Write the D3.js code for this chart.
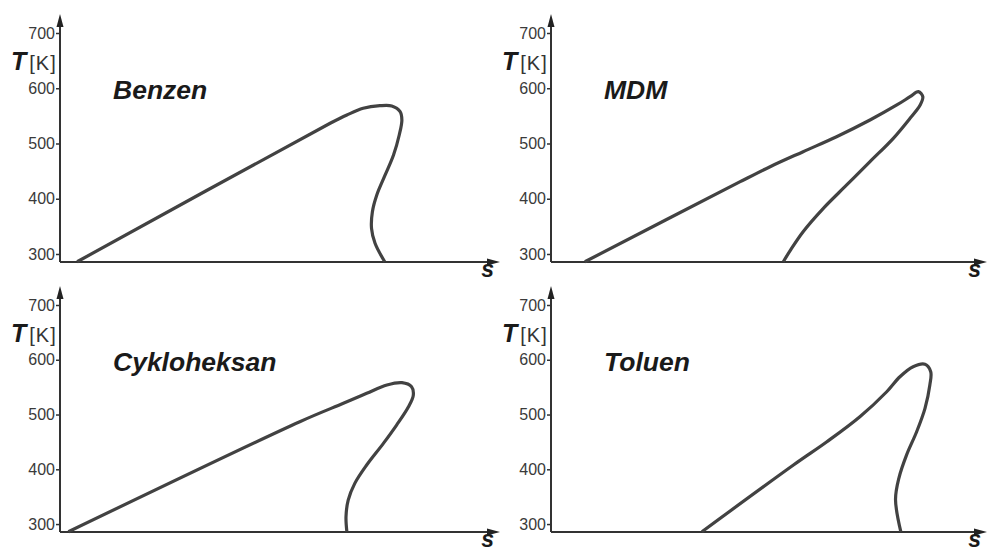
<!DOCTYPE html>
<html>
<head>
    <meta charset="UTF-8">
    <style>
        body { margin: 0; background: #fff; }
        .axis text {
            font-family: "Liberation Sans", Arial, sans-serif;
            font-size: 16px;
            fill: #3a3a3a;
        }
        .axis line { stroke: #333; stroke-width: 1.5; }
        .title {
            font-family: "Liberation Sans", Arial, sans-serif;
            font-weight: bold;
            font-style: italic;
            font-size: 26.5px;
            fill: #1a1a1a;
        }
    </style>
</head>
<body>
    <script src="https://cdn.jsdelivr.net/npm/d3@7"></script>
    <script>
        var names = ["Benzen", "MDM", "Cykloheksan", "Toluen"];
        var tTicks = [300, 400, 500, 600, 700];
        var tMin = 285.5, tMax = 700;

        // [s, T] (s in arbitrary units 0..10)
        var benzen = [
            [0.39, 286], [6.14, 536.6], [6.52, 551.6], [6.89, 563.7], [7.27, 568.4],
            [7.54, 567.9], [7.73, 557.6], [7.77, 542.5], [7.71, 515.4], [7.58, 479.2],
            [7.39, 443.0], [7.20, 406.8], [7.10, 376.6], [7.08, 346.5], [7.16, 319.4],
            [7.38, 286]
        ];
        var mdm = [
            [0.77, 286], [4.30, 430.9], [4.98, 458.0], [5.73, 485.2], [6.49, 512.3],
            [7.25, 542.5], [7.86, 569.7], [8.16, 584.7], [8.35, 593.8], [8.45, 584.7],
            [8.39, 569.7], [8.16, 545.6], [7.78, 509.4], [7.25, 467.1], [6.72, 424.9],
            [6.19, 382.7], [5.73, 340.4], [5.45, 308], [5.28, 286]
        ];
        var cykloheksan = [
            [0.19, 286], [5.45, 486.9], [6.44, 520.5], [6.97, 538.7],
            [7.43, 553.9], [7.77, 558.1], [7.99, 550.8], [8.03, 535.6], [7.92, 514.2],
            [7.65, 480.8], [7.35, 447.4], [6.97, 407.8], [6.70, 374.3], [6.55, 343.8],
            [6.50, 313.3], [6.52, 286]
        ];
        var toluen = [
            [3.43, 286], [5.51, 407.8], [6.27, 450.3],
            [7.02, 496.0], [7.63, 541.6], [7.93, 569.0], [8.23, 587.3], [8.50, 591.7],
            [8.63, 578.2], [8.61, 553.9], [8.50, 511.3], [8.31, 468.6], [8.08, 426.0],
            [7.91, 385], [7.83, 345], [7.95, 286]
        ];
        var curves = [benzen, mdm, cykloheksan, toluen];

        var w = 987, h = 552;
        var panels = [
            { x0: 60, yB: 262, yT: 33, len: 440 },
            { x0: 551, yB: 262, yT: 33, len: 436 },
            { x0: 60, yB: 532, yT: 305, len: 440 },
            { x0: 551, yB: 532, yT: 305, len: 436 }
        ];

        var svg = d3.select("body")
            .append("svg")
            .attr("width", w)
            .attr("height", h);

        panels.forEach(function (p, i) {
            var xScale = d3.scaleLinear().domain([0, 10]).range([p.x0, p.x0 + 440]);
            var yScale = d3.scaleLinear().domain([tMin, tMax]).range([p.yB, p.yT]);
            var g = svg.append("g");

            // axes with arrows
            var yTop = p.yT - 19;
            var xEnd = p.x0 + p.len;
            g.append("line")
                .attr("x1", p.x0).attr("y1", p.yB)
                .attr("x2", p.x0).attr("y2", yTop + 8)
                .attr("stroke", "#333").attr("stroke-width", 2);
            g.append("path")
                .attr("d", `M${p.x0},${yTop} L${p.x0 - 3.5},${yTop + 13} L${p.x0 + 3.5},${yTop + 13} Z`)
                .attr("fill", "#222");
            g.append("line")
                .attr("x1", p.x0).attr("y1", p.yB)
                .attr("x2", xEnd - 8).attr("y2", p.yB)
                .attr("stroke", "#333").attr("stroke-width", 2);
            g.append("path")
                .attr("d", `M${xEnd},${p.yB} L${xEnd - 13},${p.yB - 3.5} L${xEnd - 13},${p.yB + 3.5} Z`)
                .attr("fill", "#222");

            var yAxis = d3.axisLeft(yScale).tickValues(tTicks).tickSize(4).tickPadding(1);
            g.append("g")
                .attr("class", "axis")
                .attr("transform", `translate(${p.x0},0)`)
                .call(yAxis)
                .call(a => a.select(".domain").remove());

            // axis labels
            var tl = g.append("text")
                .attr("x", p.x0 - 49)
                .attr("y", p.yT + 37)
                .attr("font-family", "Liberation Sans, Arial, sans-serif")
                .attr("fill", "#1a1a1a");
            tl.append("tspan").text("T")
                .attr("font-weight", "bold").attr("font-style", "italic").attr("font-size", 25);
            tl.append("tspan").text("[K]")
                .attr("dx", 3).attr("font-size", 20).attr("letter-spacing", 1).attr("fill", "#333");

            g.append("text")
                .attr("x", xEnd - 6)
                .attr("y", p.yB + 15)
                .attr("text-anchor", "end")
                .attr("font-family", "Liberation Sans, Arial, sans-serif")
                .attr("font-weight", "bold").attr("font-style", "italic")
                .attr("font-size", 23)
                .attr("fill", "#1a1a1a")
                .text("s");

            g.append("text")
                .attr("class", "title")
                .attr("x", p.x0 + 53)
                .attr("y", p.yT + 66)
                .text(names[i]);

            var line = d3.line()
                .x(d => xScale(d[0]))
                .y(d => yScale(d[1]))
                .curve(d3.curveCatmullRom.alpha(0.5));
            g.append("path")
                .datum(curves[i])
                .attr("d", line)
                .attr("fill", "none")
                .attr("stroke", "#424242")
                .attr("stroke-width", 3.2)
                .attr("stroke-linejoin", "round");
        });
    </script>
</body>
</html>
